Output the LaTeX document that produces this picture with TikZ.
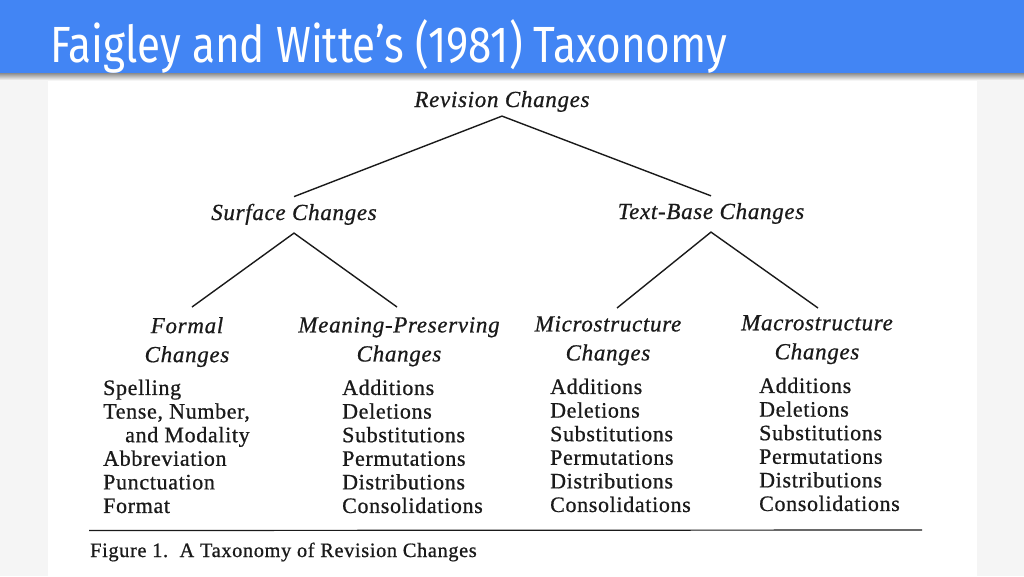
\documentclass[tikz,border=0pt]{standalone}
\usepackage{fontspec}
\usepackage{graphicx}
\setmainfont{Liberation Serif}
\newfontfamily\titlefont{Fira Sans}
\newfontfamily\scanfont[LetterSpace=3, FakeBold=0.7]{Liberation Serif}
\usetikzlibrary{positioning}

\definecolor{slideblue}{HTML}{4285F4}
\definecolor{slidegray}{HTML}{F5F5F5}
\definecolor{ink}{HTML}{1A1A1A}

\tikzset{
  head/.style={font=\scanfont\itshape\fontsize{23}{29}\selectfont, inner sep=0pt, align=center, text=ink},
  items/.style={font=\scanfont\fontsize{22}{23.6}\selectfont, inner sep=0pt, align=left, anchor=north west, text=ink},
  branch/.style={line width=1.4pt, draw=ink},
}

\begin{document}
\begin{tikzpicture}[x=1pt,y=-1pt]
		\useasboundingbox (0,0) rectangle (1024,576);
		\fill[slidegray] (0,0) rectangle (1024,576);
		\fill[white] (48,80) rectangle (977,576);
		
		% header band
		\shade[top color=black!45, bottom color=slidegray] (0,73) rectangle (1024,80);
		\fill[slideblue] (0,0) rectangle (1024,73);
		\node[anchor=base west, inner sep=0pt, text=white, font=\titlefont] (title) at (50,62)
			{\resizebox{677pt}{43pt}{Faigley and Witte’s (1981) Taxonomy}};
		
		% tree
		\node[head, anchor=base] (rev) at (502,107) {Revision Changes};
		\node[head, anchor=base] (surf) at (294,220) {Surface Changes};
		\node[head, anchor=base] (tbase) at (711,219) {Text-Base Changes};
		\node[head, anchor=north] (formal) at (187,317) {Formal\\Changes};
		\node[head, anchor=north] (meaning) at (399,317) {Meaning-Preserving\\Changes};
		\node[head, anchor=north] (micro) at (608,316) {Microstructure\\Changes};
		\node[head, anchor=north] (macro) at (817,315) {Macrostructure\\Changes};
		
		\draw[branch] ([yshift=7pt]surf.north) -- ([yshift=-4pt]rev.south) -- ([yshift=7pt]tbase.north);
		\draw[branch] ([xshift=5pt,yshift=10pt]formal.north) -- ([yshift=-8pt]surf.south) -- ([xshift=-2pt,yshift=10pt]meaning.north);
		\draw[branch] ([xshift=9pt,yshift=8pt]micro.north) -- ([yshift=-8pt]tbase.south) -- ([xshift=1pt,yshift=7pt]macro.north);
		
		% lists
		\node[items] (formlist) at (103,379.5) {Spelling\\Tense, Number,\\\hspace*{22pt}and Modality\\Abbreviation\\Punctuation\\Format};
		\node[items] (meanlist) at (342,379.5) {Additions\\Deletions\\Substitutions\\Permutations\\Distributions\\Consolidations};
		\node[items] (microlist) at (550,378.5) {Additions\\Deletions\\Substitutions\\Permutations\\Distributions\\Consolidations};
		\node[items] (macrolist) at (759,377.5) {Additions\\Deletions\\Substitutions\\Permutations\\Distributions\\Consolidations};
		
		% rule and caption
		\coordinate (ruleL) at (89,530.5);
		\coordinate (ruleR) at (922,530);
		\draw[line width=1.2pt, ink] (ruleL) -- (ruleR);
		\node[anchor=base west, inner sep=0pt, text=ink, font=\scanfont\fontsize{20.4}{22}\selectfont] (caption) at (90,557)
			{Figure 1.\ \ A Taxonomy of Revision Changes};
	\end{tikzpicture}
\end{document}
